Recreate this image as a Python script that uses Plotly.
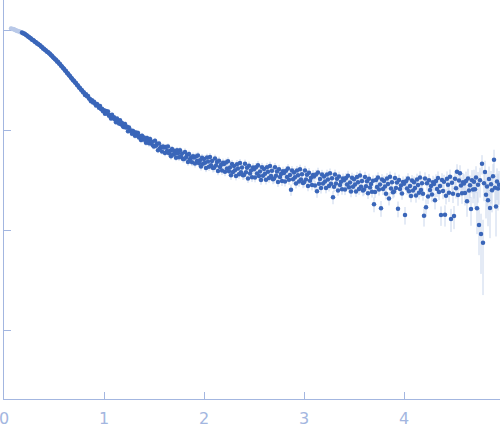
import numpy as np
import plotly.graph_objects as go

# scattering vector (first 11 points were excluded from the fit, drawn lighter)
q = [
    0.07, 0.08, 0.09,
    0.10, 0.11, 0.12, 0.13, 0.14, 0.15, 0.16, 0.17, 0.18, 0.19,
    0.20, 0.21, 0.22, 0.23, 0.24, 0.25, 0.26, 0.27, 0.28, 0.29,
    0.30, 0.31, 0.32, 0.33, 0.34, 0.35, 0.36, 0.37, 0.38, 0.39,
    0.40, 0.41, 0.42, 0.43, 0.44, 0.45, 0.46, 0.47, 0.48, 0.49,
    0.50, 0.51, 0.52, 0.53, 0.54, 0.55, 0.56, 0.57, 0.58, 0.59,
    0.60, 0.61, 0.62, 0.63, 0.64, 0.65, 0.66, 0.67, 0.68, 0.69,
    0.70, 0.71, 0.72, 0.73, 0.74, 0.75, 0.76, 0.77, 0.78, 0.79,
    0.80, 0.81, 0.82, 0.83, 0.84, 0.85, 0.86, 0.87, 0.88, 0.89,
    0.90, 0.91, 0.92, 0.93, 0.94, 0.95, 0.96, 0.97, 0.98, 0.99,
    1.00, 1.01, 1.02, 1.03, 1.04, 1.05, 1.06, 1.07, 1.08, 1.09,
    1.10, 1.11, 1.12, 1.13, 1.14, 1.15, 1.16, 1.17, 1.18, 1.19,
    1.20, 1.21, 1.22, 1.23, 1.24, 1.25, 1.26, 1.27, 1.28, 1.29,
    1.30, 1.31, 1.32, 1.33, 1.34, 1.35, 1.36, 1.37, 1.38, 1.39,
    1.40, 1.41, 1.42, 1.43, 1.44, 1.45, 1.46, 1.47, 1.48, 1.49,
    1.50, 1.51, 1.52, 1.53, 1.54, 1.55, 1.56, 1.57, 1.58, 1.59,
    1.60, 1.61, 1.62, 1.63, 1.64, 1.65, 1.66, 1.67, 1.68, 1.69,
    1.70, 1.71, 1.72, 1.73, 1.74, 1.75, 1.76, 1.77, 1.78, 1.79,
    1.80, 1.81, 1.82, 1.83, 1.84, 1.85, 1.86, 1.87, 1.88, 1.89,
    1.90, 1.91, 1.92, 1.93, 1.94, 1.95, 1.96, 1.97, 1.98, 1.99,
    2.00, 2.01, 2.02, 2.03, 2.04, 2.05, 2.06, 2.07, 2.08, 2.09,
    2.10, 2.11, 2.12, 2.13, 2.14, 2.15, 2.16, 2.17, 2.18, 2.19,
    2.20, 2.21, 2.22, 2.23, 2.24, 2.25, 2.26, 2.27, 2.28, 2.29,
    2.30, 2.31, 2.32, 2.33, 2.34, 2.35, 2.36, 2.37, 2.38, 2.39,
    2.40, 2.41, 2.42, 2.43, 2.44, 2.45, 2.46, 2.47, 2.48, 2.49,
    2.50, 2.51, 2.52, 2.53, 2.54, 2.55, 2.56, 2.57, 2.58, 2.59,
    2.60, 2.61, 2.62, 2.63, 2.64, 2.65, 2.66, 2.67, 2.68, 2.69,
    2.70, 2.71, 2.72, 2.73, 2.74, 2.75, 2.76, 2.77, 2.78, 2.79,
    2.80, 2.81, 2.82, 2.83, 2.84, 2.85, 2.86, 2.87, 2.88, 2.89,
    2.90, 2.91, 2.92, 2.93, 2.94, 2.95, 2.96, 2.97, 2.98, 2.99,
    3.00, 3.01, 3.02, 3.03, 3.04, 3.05, 3.06, 3.07, 3.08, 3.09,
    3.10, 3.11, 3.12, 3.13, 3.14, 3.15, 3.16, 3.17, 3.18, 3.19,
    3.20, 3.21, 3.22, 3.23, 3.24, 3.25, 3.26, 3.27, 3.28, 3.29,
    3.30, 3.31, 3.32, 3.33, 3.34, 3.35, 3.36, 3.37, 3.38, 3.39,
    3.40, 3.41, 3.42, 3.43, 3.44, 3.45, 3.46, 3.47, 3.48, 3.49,
    3.50, 3.51, 3.52, 3.53, 3.54, 3.55, 3.56, 3.57, 3.58, 3.59,
    3.60, 3.61, 3.62, 3.63, 3.64, 3.65, 3.66, 3.67, 3.68, 3.69,
    3.70, 3.71, 3.72, 3.73, 3.74, 3.75, 3.76, 3.77, 3.78, 3.79,
    3.80, 3.81, 3.82, 3.83, 3.84, 3.85, 3.86, 3.87, 3.88, 3.89,
    3.90, 3.91, 3.92, 3.93, 3.94, 3.95, 3.96, 3.97, 3.98, 3.99,
    4.00, 4.01, 4.02, 4.03, 4.04, 4.05, 4.06, 4.07, 4.08, 4.09,
    4.10, 4.11, 4.12, 4.13, 4.14, 4.15, 4.16, 4.17, 4.18, 4.19,
    4.20, 4.21, 4.22, 4.23, 4.24, 4.25, 4.26, 4.27, 4.28, 4.29,
    4.30, 4.31, 4.32, 4.33, 4.34, 4.35, 4.36, 4.37, 4.38, 4.39,
    4.40, 4.41, 4.42, 4.43, 4.44, 4.45, 4.46, 4.47, 4.48, 4.49,
    4.50, 4.51, 4.52, 4.53, 4.54, 4.55, 4.56, 4.57, 4.58, 4.59,
    4.60, 4.61, 4.62, 4.63, 4.64, 4.65, 4.66, 4.67, 4.68, 4.69,
    4.70, 4.71, 4.72, 4.73, 4.74, 4.75, 4.76, 4.77, 4.78, 4.79,
    4.80, 4.81, 4.82, 4.83, 4.84, 4.85, 4.86, 4.87, 4.88, 4.89,
    4.90, 4.91, 4.92, 4.93, 4.94, 4.95,
]

# log10 of intensity (normalised, I(0) ~ 1)
log_i = [
    0.016, 0.011, 0.009,
    0.007, 0.000, -0.002, -0.009, -0.010, -0.016, -0.018, -0.025, -0.026, -0.033,
    -0.036, -0.040, -0.051, -0.055, -0.066, -0.069, -0.080, -0.085, -0.097, -0.100,
    -0.108, -0.119, -0.123, -0.134, -0.137, -0.148, -0.152, -0.166, -0.171, -0.184,
    -0.188, -0.201, -0.205, -0.217, -0.220, -0.233, -0.238, -0.253, -0.258, -0.272,
    -0.279, -0.293, -0.298, -0.314, -0.318, -0.334, -0.340, -0.357, -0.364, -0.381,
    -0.388, -0.405, -0.411, -0.430, -0.436, -0.453, -0.459, -0.478, -0.484, -0.502,
    -0.507, -0.526, -0.531, -0.550, -0.555, -0.574, -0.579, -0.598, -0.603, -0.623,
    -0.626, -0.650, -0.643, -0.662, -0.659, -0.686, -0.689, -0.712, -0.702, -0.725,
    -0.717, -0.736, -0.756, -0.739, -0.756, -0.777, -0.761, -0.790, -0.787, -0.813,
    -0.802, -0.837, -0.809, -0.836, -0.815, -0.858, -0.849, -0.884, -0.848, -0.883,
    -0.872, -0.895, -0.922, -0.886, -0.908, -0.935, -0.902, -0.942, -0.931, -0.966,
    -0.971, -0.939, -0.975, -0.967, -1.012, -0.974, -1.008, -1.005, -1.037, -1.009,
    -1.022, -1.058, -1.025, -1.054, -1.029, -1.074, -1.063, -1.100, -1.058, -1.095,
    -1.075, -1.098, -1.127, -1.081, -1.104, -1.133, -1.090, -1.134, -1.118, -1.156,
    -1.165, -1.107, -1.158, -1.138, -1.202, -1.136, -1.183, -1.171, -1.214, -1.164,
    -1.176, -1.230, -1.171, -1.211, -1.165, -1.233, -1.209, -1.263, -1.190, -1.244,
    -1.207, -1.238, -1.277, -1.202, -1.233, -1.273, -1.202, -1.265, -1.236, -1.289,
    -1.289, -1.219, -1.276, -1.249, -1.321, -1.241, -1.293, -1.276, -1.323, -1.262,
    -1.274, -1.335, -1.264, -1.310, -1.254, -1.332, -1.303, -1.364, -1.277, -1.338,
    -1.289, -1.328, -1.380, -1.276, -1.316, -1.367, -1.270, -1.353, -1.311, -1.381,
    -1.377, -1.286, -1.356, -1.321, -1.410, -1.307, -1.371, -1.348, -1.406, -1.327,
    -1.340, -1.418, -1.326, -1.385, -1.313, -1.412, -1.374, -1.453, -1.340, -1.419,
    -1.360, -1.403, -1.460, -1.342, -1.385, -1.442, -1.331, -1.423, -1.375, -1.453,
    -1.450, -1.338, -1.422, -1.378, -1.484, -1.357, -1.434, -1.404, -1.473, -1.376,
    -1.392, -1.476, -1.373, -1.434, -1.352, -1.460, -1.415, -1.499, -1.372, -1.457,
    -1.390, -1.437, -1.498, -1.372, -1.418, -1.479, -1.360, -1.459, -1.408, -1.492,
    -1.485, -1.373, -1.457, -1.414, -1.520, -1.393, -1.470, -1.440, -1.510, -1.413,
    -1.429, -1.515, -1.407, -1.471, -1.386, -1.497, -1.451, -1.598, -1.406, -1.493,
    -1.424, -1.472, -1.535, -1.405, -1.452, -1.516, -1.392, -1.494, -1.442, -1.529,
    -1.523, -1.405, -1.494, -1.448, -1.561, -1.427, -1.508, -1.478, -1.551, -1.449,
    -1.466, -1.556, -1.445, -1.612, -1.424, -1.538, -1.491, -1.581, -1.446, -1.536,
    -1.465, -1.514, -1.580, -1.445, -1.494, -1.560, -1.433, -1.538, -1.483, -1.672,
    -1.567, -1.445, -1.536, -1.488, -1.604, -1.466, -1.549, -1.517, -1.592, -1.486,
    -1.503, -1.595, -1.480, -1.546, -1.457, -1.573, -1.524, -1.615, -1.477, -1.567,
    -1.492, -1.545, -1.614, -1.470, -1.522, -1.591, -1.456, -1.568, -1.509, -1.604,
    -1.596, -1.469, -1.563, -1.513, -1.632, -1.488, -1.574, -1.540, -1.617, -1.507,
    -1.742, -1.619, -1.500, -1.569, -1.475, -1.596, -1.544, -1.782, -1.494, -1.589,
    -1.510, -1.565, -1.637, -1.485, -1.539, -1.684, -1.468, -1.586, -1.523, -1.623,
    -1.614, -1.480, -1.579, -1.526, -1.787, -1.500, -1.590, -1.555, -1.636, -1.520,
    -1.538, -1.849, -1.512, -1.585, -1.486, -1.613, -1.559, -1.659, -1.506, -1.606,
    -1.522, -1.580, -1.656, -1.494, -1.551, -1.627, -1.475, -1.599, -1.532, -1.637,
    -1.858, -1.484, -1.772, -1.532, -1.665, -1.503, -1.599, -1.560, -1.646, -1.522,
    -1.540, -1.703, -1.510, -1.590, -1.480, -1.620, -1.560, -1.851, -1.500, -1.610,
    -1.518, -1.847, -1.658, -1.488, -1.548, -1.628, -1.468, -1.889, -1.528, -1.638,
    -1.861, -1.488, -1.582, -1.418, -1.650, -1.505, -1.432, -1.556, -1.633, -1.522,
    -1.536, -1.630, -1.511, -1.713, -1.485, -1.605, -1.553, -1.790, -1.502, -1.596,
    -1.518, -1.593, -1.476, -1.782, -1.547, -1.951, -1.502, -2.041, -1.338, -2.128,
    -1.532, -1.421, -1.648, -1.566, -1.703, -1.489, -1.781, -1.543, -1.602, -1.462,
    -1.298, -1.577, -1.764, -1.514, -1.584, -1.547,
]

# relative error of each point
rel_err = [
    0.05, 0.045, 0.04,
    0.035, 0.03, 0.028, 0.025, 0.022, 0.02, 0.018, 0.016, 0.015, 0.014,
    0.013, 0.012, 0.012, 0.011, 0.011, 0.011, 0.012, 0.011, 0.012, 0.012,
    0.012, 0.013, 0.012, 0.013, 0.013, 0.014, 0.013, 0.014, 0.014, 0.015,
    0.015, 0.014, 0.016, 0.015, 0.016, 0.017, 0.016, 0.017, 0.018, 0.017,
    0.018, 0.019, 0.018, 0.02, 0.019, 0.021, 0.02, 0.022, 0.021, 0.023,
    0.022, 0.024, 0.023, 0.025, 0.024, 0.026, 0.025, 0.027, 0.026, 0.028,
    0.027, 0.029, 0.028, 0.03, 0.029, 0.031, 0.03, 0.032, 0.031, 0.033,
    0.032, 0.034, 0.033, 0.035, 0.034, 0.036, 0.035, 0.037, 0.036, 0.038,
    0.037, 0.039, 0.038, 0.04, 0.039, 0.041, 0.04, 0.042, 0.041, 0.043,
    0.044, 0.046, 0.045, 0.048, 0.046, 0.049, 0.047, 0.05, 0.048, 0.051,
    0.05, 0.053, 0.051, 0.054, 0.052, 0.056, 0.053, 0.057, 0.055, 0.058,
    0.056, 0.06, 0.058, 0.061, 0.059, 0.063, 0.06, 0.064, 0.062, 0.066,
    0.063, 0.067, 0.064, 0.068, 0.066, 0.07, 0.067, 0.071, 0.069, 0.073,
    0.07, 0.074, 0.071, 0.075, 0.073, 0.077, 0.074, 0.078, 0.076, 0.08,
    0.065, 0.068, 0.066, 0.069, 0.067, 0.07, 0.068, 0.071, 0.069, 0.072,
    0.07, 0.073, 0.071, 0.074, 0.072, 0.075, 0.073, 0.076, 0.074, 0.077,
    0.075, 0.078, 0.076, 0.079, 0.077, 0.08, 0.078, 0.081, 0.079, 0.082,
    0.08, 0.083, 0.081, 0.084, 0.082, 0.085, 0.083, 0.086, 0.084, 0.087,
    0.085, 0.088, 0.086, 0.089, 0.087, 0.09, 0.088, 0.091, 0.089, 0.092,
    0.09, 0.093, 0.091, 0.094, 0.092, 0.095, 0.093, 0.096, 0.094, 0.097,
    0.092, 0.095, 0.093, 0.096, 0.094, 0.097, 0.095, 0.098, 0.096, 0.099,
    0.094, 0.097, 0.095, 0.098, 0.096, 0.099, 0.097, 0.1, 0.098, 0.101,
    0.096, 0.099, 0.097, 0.1, 0.098, 0.101, 0.099, 0.102, 0.1, 0.103,
    0.098, 0.101, 0.099, 0.102, 0.1, 0.103, 0.101, 0.104, 0.102, 0.105,
    0.1, 0.103, 0.101, 0.104, 0.102, 0.105, 0.103, 0.106, 0.104, 0.107,
    0.102, 0.105, 0.103, 0.106, 0.104, 0.107, 0.105, 0.108, 0.106, 0.109,
    0.104, 0.107, 0.105, 0.108, 0.106, 0.109, 0.107, 0.11, 0.108, 0.111,
    0.106, 0.109, 0.107, 0.11, 0.108, 0.111, 0.109, 0.13, 0.11, 0.113,
    0.108, 0.111, 0.109, 0.112, 0.11, 0.113, 0.111, 0.114, 0.112, 0.115,
    0.11, 0.113, 0.111, 0.114, 0.112, 0.115, 0.113, 0.116, 0.114, 0.117,
    0.112, 0.115, 0.113, 0.14, 0.114, 0.117, 0.115, 0.118, 0.116, 0.119,
    0.114, 0.117, 0.115, 0.118, 0.116, 0.119, 0.117, 0.12, 0.118, 0.15,
    0.116, 0.119, 0.117, 0.12, 0.118, 0.121, 0.119, 0.122, 0.12, 0.123,
    0.118, 0.121, 0.119, 0.122, 0.12, 0.123, 0.121, 0.124, 0.122, 0.125,
    0.12, 0.123, 0.121, 0.124, 0.122, 0.125, 0.123, 0.126, 0.124, 0.127,
    0.122, 0.125, 0.123, 0.126, 0.124, 0.127, 0.125, 0.128, 0.126, 0.129,
    0.17, 0.127, 0.125, 0.128, 0.126, 0.129, 0.127, 0.18, 0.128, 0.131,
    0.126, 0.129, 0.127, 0.13, 0.128, 0.15, 0.129, 0.132, 0.13, 0.133,
    0.128, 0.131, 0.129, 0.132, 0.18, 0.133, 0.131, 0.134, 0.132, 0.135,
    0.13, 0.2, 0.131, 0.134, 0.132, 0.135, 0.133, 0.136, 0.134, 0.137,
    0.14, 0.145, 0.15, 0.142, 0.148, 0.144, 0.152, 0.146, 0.15, 0.148,
    0.22, 0.15, 0.2, 0.152, 0.158, 0.155, 0.16, 0.157, 0.162, 0.159,
    0.16, 0.19, 0.165, 0.168, 0.163, 0.17, 0.166, 0.22, 0.168, 0.172,
    0.175, 0.24, 0.18, 0.185, 0.178, 0.19, 0.182, 0.26, 0.186, 0.192,
    0.26, 0.2, 0.21, 0.19, 0.22, 0.205, 0.2, 0.225, 0.215, 0.23,
    0.24, 0.25, 0.245, 0.3, 0.25, 0.26, 0.255, 0.32, 0.26, 0.27,
    0.32, 0.36, 0.3, 0.45, 0.34, 0.5, 0.33, 0.6, 0.22, 0.7,
    0.34, 0.3, 0.42, 0.37, 0.45, 0.33, 0.5, 0.36, 0.4, 0.32,
    0.26, 0.38, 0.5, 0.35, 0.4, 0.37,
]

n_excluded = 11

q_arr = np.array(q)
intensity = 10 ** np.array(log_i)
err = np.array(rel_err) * intensity

axis_col = "#a3b6e0"

fig = go.Figure()

# points left out of the analysis
fig.add_trace(go.Scatter(
    x=q_arr[:n_excluded], y=intensity[:n_excluded], mode="markers",
    marker=dict(size=4.5, color="#b9c9e8"),
    error_y=dict(type="data", array=err[:n_excluded], color="#d8e2f2", thickness=1, width=0),
    showlegend=False,
))

fig.add_trace(go.Scatter(
    x=q_arr[n_excluded:], y=intensity[n_excluded:], mode="markers",
    marker=dict(size=4.5, color="#3a66b9"),
    error_y=dict(type="data", array=err[n_excluded:], color="#c9d6ec", thickness=1, width=0),
    showlegend=False,
))

fig.update_layout(
    width=500, height=437,
    margin=dict(l=4, r=0, t=0, b=38),
    paper_bgcolor="white", plot_bgcolor="white",
    font=dict(family="DejaVu Sans", size=16, color=axis_col),
)
fig.update_xaxes(
    range=[0, 4.96], tickvals=[0, 1, 2, 3, 4], automargin=False,
    ticklabeloverflow="allow", ticklabelstandoff=5,
    ticks="inside", ticklen=7, tickcolor=axis_col,
    showline=True, linecolor=axis_col, linewidth=1,
    showgrid=False, zeroline=False,
)
fig.update_yaxes(
    type="log", range=[-3.69, 0.30], tickvals=[1, 0.1, 0.01, 0.001], automargin=False,
    showticklabels=False, ticks="inside", ticklen=7, tickcolor=axis_col,
    showline=True, linecolor=axis_col, linewidth=1,
    showgrid=False, zeroline=False,
)

# the page body keeps its default 8px margin otherwise
fig.write_html("out.html", config={"displayModeBar": False},
               post_script="document.body.style.margin = '0';")
